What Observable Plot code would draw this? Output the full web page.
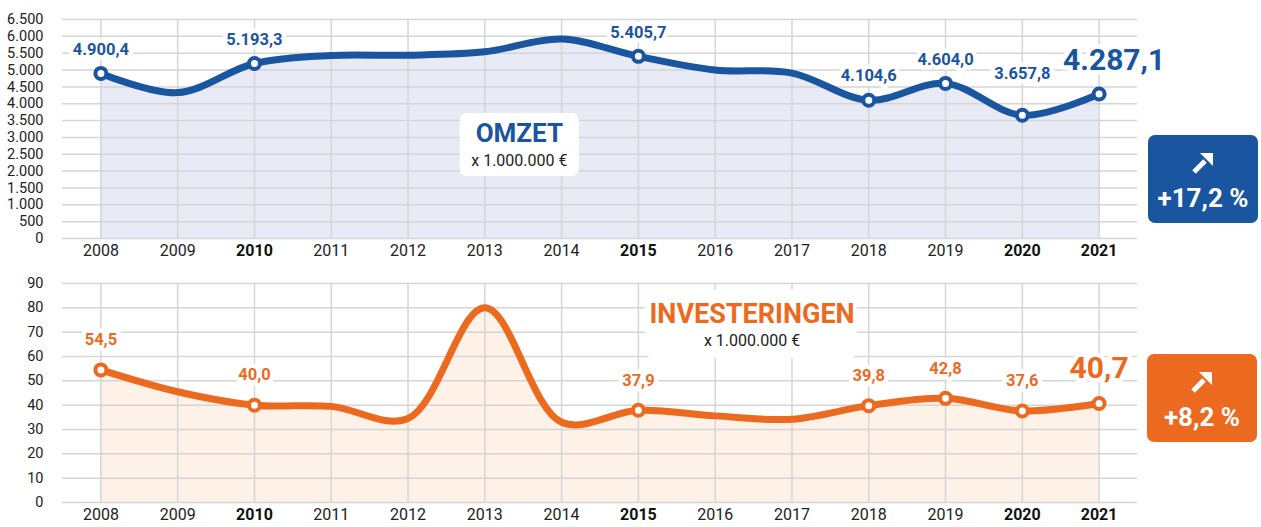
<!DOCTYPE html>
<html><head><meta charset="utf-8">
<script src="https://cdn.jsdelivr.net/npm/d3@7"></script>
<script src="https://cdn.jsdelivr.net/npm/@observablehq/plot@0.6"></script>
<style>
body{margin:0;background:#fff;}
#chart{width:1261px;height:527px;overflow:hidden;}
#chart svg{display:block;overflow:visible;}
</style></head><body><div id="chart"></div>
<script>
// ---- data ----
const years = [2008, 2009, 2010, 2011, 2012, 2013, 2014, 2015, 2016, 2017, 2018, 2019, 2020, 2021];
const omzet = [4900.4, 4330, 5193.3, 5430, 5440, 5540, 5920, 5405.7, 5000, 4910, 4104.6, 4604.0, 3657.8, 4287.1];
const investeringen = [54.5, 45.5, 40.0, 39.5, 34.5, 80, 33, 37.9, 35.6, 34.2, 39.8, 42.8, 37.6, 40.7];
const labelledYears = [2008, 2010, 2015, 2018, 2019, 2020, 2021];
const boldYears = [2010, 2015, 2020, 2021];
const omzetTicks = [0, 500, 1000, 1500, 2000, 2500, 3000, 3500, 4000, 4500, 5000, 5500, 6000, 6500];
const invTicks = [0, 10, 20, 30, 40, 50, 60, 70, 80, 90];
const omzetTitle = "OMZET";
const invTitle = "INVESTERINGEN";
const unitText = "x 1.000.000 €";
const omzetChange = "+17,2 %";
const invChange = "+8,2 %";

// ---- styling ----
const FONT = "Roboto,'DejaVu Sans Condensed',sans-serif";
const BLUE = "#1a55a0", BLUE_FILL = "#e8ebf5";
const ORANGE = "#ec6a1f", ORANGE_FILL = "#fdf1e8";
const GRID = "#d5d5d5";
const nl = d3.formatLocale({decimal: ",", thousands: ".", grouping: [3], currency: ["", "€"]});
const fmtInt = nl.format(",d");
const fmt1 = nl.format(",.1f");
const normalYears = years.filter(y => !boldYears.includes(y));

function panel(opts) {
  const {values, ticks, domain, color, fill, height, marginTop, marginBottom,
         labelDy, bigDx, bigDy, box, title, titleSize, change} = opts;
  const data = years.map((year, i) => ({year, value: values[i]}));
  const labelled = data.filter(d => labelledYears.includes(d.year));
  const last = labelled[labelled.length - 1];
  const small = labelled.slice(0, -1);
  const halo = {stroke: "white", strokeWidth: 9, paintOrder: "stroke", strokeLinejoin: "round"};
  const plot = Plot.plot({
    width: 1261, height, marginLeft: 62, marginRight: 124, marginTop, marginBottom,
    x: {domain: [2007.5, 2021.5], axis: null},
    y: {domain, axis: null},
    style: {fontFamily: FONT, background: "transparent", overflow: "visible", color: "#222"},
    marks: [
      Plot.areaY(data, {x: "year", y: "value", curve: "catmull-rom", fill}),
      Plot.gridY(ticks, {stroke: GRID, strokeOpacity: 1, strokeWidth: 1.5}),
      Plot.gridX(years, {stroke: GRID, strokeOpacity: 1, strokeWidth: 1.5}),
      Plot.axisY(ticks, {tickSize: 0, tickPadding: 19, tickFormat: fmtInt, fontSize: 14.5, label: null, fill: "#222"}),
      Plot.axisX(normalYears, {tickSize: 0, tickPadding: 6, tickFormat: d => String(d), fontSize: 16, label: null, fill: "#222"}),
      Plot.axisX(boldYears, {tickSize: 0, tickPadding: 6, tickFormat: d => String(d), fontSize: 16, fontWeight: "bold", label: null, fill: "#111"}),
      Plot.rect([box], {x1: "x1", x2: "x2", y1: "y1", y2: "y2", fill: "white", rx: 7}),
      Plot.text([box], {x: "cx", y: "ty", text: () => title, fill: color, fontSize: titleSize, fontWeight: "bold"}),
      Plot.text([box], {x: "cx", y: "uy", text: () => unitText, fill: "#222", fontSize: 16}),
      Plot.lineY(data, {x: "year", y: "value", curve: "catmull-rom", stroke: color, strokeWidth: 7, strokeLinecap: "round"}),
      Plot.dot(labelled, {x: "year", y: "value", r: 5.5, fill: "white", stroke: color, strokeWidth: 4}),
      ...small.map(d => Plot.text([d], {x: "year", y: "value", text: d => fmt1(d.value), dy: labelDy(d.year),
        fill: color, fontSize: 16.5, fontWeight: "bold", ...halo})),
      Plot.text([last], {x: "year", y: "value", text: d => fmt1(d.value), dx: bigDx, dy: bigDy,
        fill: color, fontSize: 30, fontWeight: "bold", ...halo})
    ]
  });
  // change badge
  const svg = d3.select(plot);
  const g = svg.append("g").attr("transform", `translate(${change.x},${change.y})`);
  g.append("rect").attr("x", 0).attr("y", 0).attr("width", 110).attr("height", 88).attr("rx", 7).attr("fill", color);
  const a = g.append("g").attr("transform", "translate(55,28)");
  a.append("path").attr("d", "M-9,9 L2,-2").attr("stroke", "white").attr("stroke-width", 5).attr("stroke-linecap", "butt");
  a.append("path").attr("d", "M10,-10 L-3,-10 L10,3 Z").attr("fill", "white");
  g.append("text").attr("x", 55).attr("y", 65).attr("text-anchor", "middle").attr("dominant-baseline", "middle")
    .attr("fill", "white").attr("font-size", 26).attr("font-weight", "bold").attr("font-family", FONT).text(change.text);
  return plot;
}

const topPlot = panel({
  values: omzet, ticks: omzetTicks, domain: [0, 6500], color: BLUE, fill: BLUE_FILL,
  height: 268, marginTop: 19, marginBottom: 30,
  labelDy: y => (y === 2020 ? -42 : -24), bigDx: 15, bigDy: -34,
  box: {x1: 2012.68, x2: 2014.23, y1: 1840, y2: 3710, cx: 2013.45, ty: 3110, uy: 2310},
  title: omzetTitle, titleSize: 26,
  change: {x: 1148, y: 135, text: omzetChange}
});
const botPlot = panel({
  values: investeringen, ticks: invTicks, domain: [0, 90], color: ORANGE, fill: ORANGE_FILL,
  height: 259, marginTop: 15, marginBottom: 25,
  labelDy: y => -30, bigDx: 0, bigDy: -35,
  box: {x1: 2015.09, x2: 2017.85, y1: 59.3, y2: 87.3, cx: 2016.48, ty: 77.2, uy: 66.3},
  title: invTitle, titleSize: 27,
  change: {x: 1147, y: 86, text: invChange}
});
document.getElementById("chart").append(topPlot, botPlot);
</script>
</body></html>
